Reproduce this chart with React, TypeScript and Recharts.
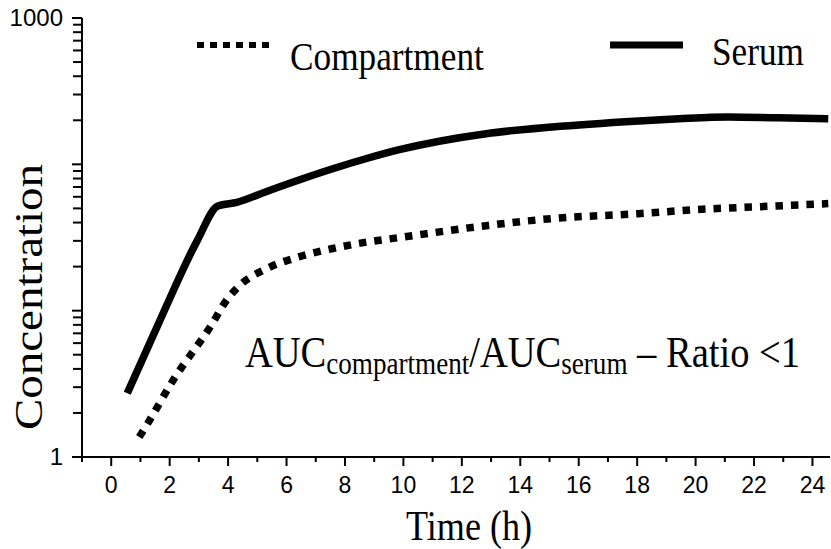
import { ComposedChart, Line, Scatter, XAxis, YAxis, Customized } from "recharts";

// values (time in h, concentration on log axis)
const serumTime = [0.55, 1.67, 2.94, 3.65, 4.3, 5.32, 6.45, 7.58, 8.74, 9.86, 12.83, 15.09, 18.05, 19.42, 21.13, 22.83, 24.54];
const serumConc = [2.73, 8.6, 30, 52, 55, 65.3, 78.5, 93.3, 109.6, 125.9, 162, 180, 198, 205, 211, 208, 205];

const compTime = [0.96, 1.26, 2.12, 3.38, 3.99, 4.4, 5.32, 6.45, 7.58, 8.74, 9.86, 12.83, 15.09, 18.05, 20.0, 22.25, 24.54];
const compConc = [1.37, 1.71, 3.35, 7.7, 12.1, 14.9, 19.4, 23.4, 26.6, 29.4, 31.6, 38.1, 42.6, 46, 49, 51.4, 53.9];

const xTicks = [-1, 0, 1, 2, 3, 4, 5, 6, 7, 8, 9, 10, 11, 12, 13, 14, 15, 16, 17, 18, 19, 20, 21, 22, 23, 24];
const xLabels = [0, 2, 4, 6, 8, 10, 12, 14, 16, 18, 20, 22, 24];

const yMajor = [1, 10, 100, 1000];
const yMinor = [
  2, 3, 4, 5, 6, 7, 8, 9,
  20, 30, 40, 50, 60, 70, 80, 90,
  200, 300, 400, 500, 600, 700, 800, 900,
];
const yLabels = [1, 1000];

const X_MIN = -1;

const serumData = serumTime.map((t, i) => ({ t, v: serumConc[i] }));
const compData = compTime.map((t, i) => ({ t, v: compConc[i] }));
const minorTickData = yMinor.map((v) => ({ t: X_MIN, v }));

const SANS = "'Liberation Sans', Arial, sans-serif";
const SERIF = "'Liberation Serif', 'Times New Roman', serif";
const SQUEEZE = 0.86;

function XTick({ x, y, payload }: any) {
  const v = payload.value;
  const major = v >= 0 && v % 2 === 0;
  return (
    <g>
      <line x1={x} x2={x} y1={y} y2={y + (major ? 9 : 5)} stroke="#000" strokeWidth={2} />
      {xLabels.includes(v) && (
        <text x={x} y={y + 36} textAnchor="middle" fontFamily={SANS} fontSize={23} fill="#000">
          {v}
        </text>
      )}
    </g>
  );
}

function YTick({ x, y, payload }: any) {
  const v = payload.value;
  return (
    <g>
      <line x1={x - 10} x2={x} y1={y} y2={y} stroke="#000" strokeWidth={2} />
      {yLabels.includes(v) && (
        <text x={x - 19} y={y + 8} textAnchor="end" fontFamily={SANS} fontSize={24} fill="#000">
          {v}
        </text>
      )}
    </g>
  );
}

// minor log ticks, drawn as a short dash left of the axis
function MinorTick(props: any) {
  const { cx, cy } = props;
  return <line x1={cx - 9} x2={cx} y1={cy} y2={cy} stroke="#000" strokeWidth={2} />;
}

function Decorations() {
  return (
    <g fill="#000">
      {/* legend */}
      <line x1={197} x2={271} y1={45} y2={45} stroke="#000" strokeWidth={6} strokeDasharray="7 6" />
      <text transform={`translate(290,70) scale(${SQUEEZE},1)`} fontFamily={SERIF} fontSize={41}>Compartment</text>
      <line x1={610} x2={683} y1={45} y2={45} stroke="#000" strokeWidth={7} />
      <text transform={`translate(712,65) scale(${SQUEEZE},1)`} fontFamily={SERIF} fontSize={41}>Serum</text>

      {/* axis titles */}
      <text transform={`translate(42,297) scale(${SQUEEZE},1) rotate(-90)`} textAnchor="middle" fontFamily={SERIF} fontSize={47}>
        Concentration
      </text>
      <text transform={`translate(469,540) scale(${SQUEEZE},1)`} textAnchor="middle" fontFamily={SERIF} fontSize={42}>
        Time (h)
      </text>

      {/* annotation */}
      <text transform={`translate(245,367) scale(0.875,1)`} fontFamily={SERIF} fontSize={44} style={{ whiteSpace: "pre" }}>
        AUC
        <tspan fontSize={31} dy={7}>compartment</tspan>
        <tspan dy={-7}>/AUC</tspan>
        <tspan fontSize={31} dy={7}>serum</tspan>
        <tspan dy={-7}> – Ratio &lt;1</tspan>
      </text>
    </g>
  );
}

export default function App() {
  return (
    <div style={{ position: "absolute", left: 0, top: 0, background: "#fff" }}>
      <ComposedChart width={831} height={549} margin={{ top: 18, right: 1, bottom: 0, left: 0 }}>
        <XAxis
          type="number"
          dataKey="t"
          domain={[X_MIN, 24.6]}
          ticks={xTicks}
          interval={0}
          tick={<XTick />}
          tickLine={false}
          tickSize={0}
          tickMargin={0}
          height={92}
          axisLine={{ stroke: "#000", strokeWidth: 2 }}
        />
        <YAxis
          type="number"
          scale="log"
          domain={[1, 1000]}
          ticks={yMajor}
          interval={0}
          tick={<YTick />}
          tickLine={false}
          tickSize={0}
          tickMargin={0}
          width={82}
          axisLine={{ stroke: "#000", strokeWidth: 2 }}
        />
        <Scatter data={minorTickData} dataKey="v" shape={MinorTick} isAnimationActive={false} />
        <Line
          data={serumData}
          dataKey="v"
          type="monotone"
          stroke="#000"
          strokeWidth={7.5}
          dot={false}
          isAnimationActive={false}
        />
        <Line
          data={compData}
          dataKey="v"
          type="monotone"
          stroke="#000"
          strokeWidth={7.5}
          strokeDasharray="7.5 8"
          dot={false}
          isAnimationActive={false}
        />
        <Customized component={<Decorations />} />
      </ComposedChart>
    </div>
  );
}
